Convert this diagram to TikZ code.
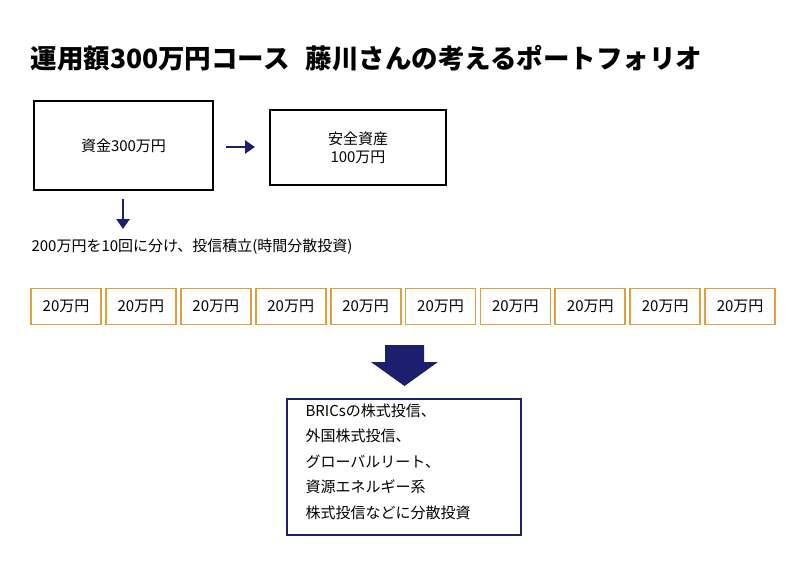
\documentclass[tikz,border=0pt]{standalone}
\usepackage{fontspec}
\usetikzlibrary{arrows.meta}
\setmainfont{Noto Sans CJK JP}
\definecolor{gold}{RGB}{222,160,60}
\definecolor{navy}{RGB}{30,30,110}
\begin{document}
\begin{tikzpicture}[x=1pt,y=-1pt,
  box/.style={draw=black,line width=1.2pt,fill=white},
  obox/.style={draw=gold,line width=1.8pt,minimum width=70pt,minimum height=36pt,font=\fontsize{15}{17}\selectfont,inner sep=0pt},
  arr/.style={draw=navy,line width=2.5pt,-{Triangle[width=13pt,length=10pt]}},
  txt/.style={font=\fontsize{15}{18}\selectfont}]
\useasboundingbox (0,0) rectangle (800,571);
\fill[white] (0,0) rectangle (800,571);
\node[anchor=west,font=\fontsize{26.5}{30}\selectfont\bfseries] (title) at (27,58) {運用額300万円コース\hspace{16pt}藤川さんの考えるポートフォリオ};
\node[box,minimum width=179pt,minimum height=89pt,txt] (b1) at (123.5,145.5) {資金300万円};
\node[box,minimum width=176pt,minimum height=75pt,txt,align=center] (b2) at (358,147.5) {安全資産\\100万円};
\coordinate (a1s) at (226,147);\coordinate (a1e) at (255,147);
\draw[arr] (a1s) -- (a1e);
\coordinate (a2s) at (123,199);\coordinate (a2e) at (123,229);
\draw[arr] (a2s) -- (a2e);
\node[anchor=west,txt] (t1) at (28,247) {200万円を10回に分け、投信積立(時間分散投資)};
\foreach \i in {0,...,9}{
  \node[obox] (o\i) at (66+74.9*\i,306.5) {20万円};
}
\fill[navy] (385,345) -- (424,345) -- (424,362) -- (438,362) -- (404.5,386) -- (371,362) -- (385,362) -- cycle;
\node[draw=navy,line width=1.4pt,minimum width=234pt,minimum height=136pt] (b3) at (404,467) {};
\node[anchor=north west,font=\fontsize{15}{25.5}\selectfont,align=left] (t3) at (302,400) {BRICsの株式投信、\\外国株式投信、\\グローバルリート、\\資源エネルギー系\\株式投信などに分散投資};
\end{tikzpicture}
\end{document}
